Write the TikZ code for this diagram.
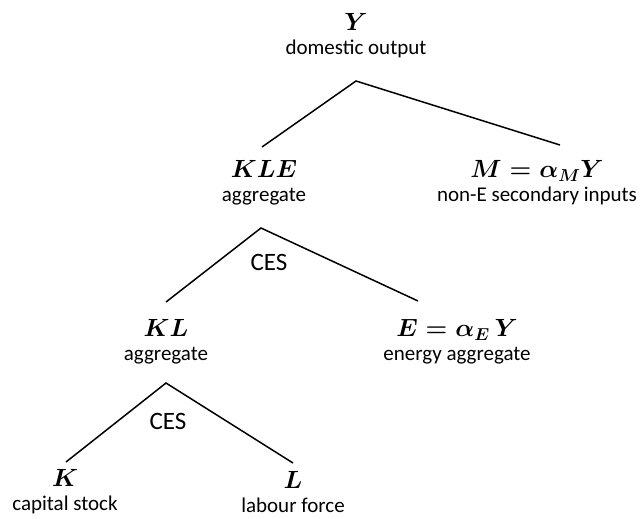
\documentclass[tikz,border=0pt]{standalone}
\usepackage{fontspec}
\usepackage{amsmath}
\usepackage{tikz}
\setmainfont{Carlito}

\newcommand{\bm}[1]{{\fontsize{23}{23}\selectfont$\boldsymbol{#1}$}}

\tikzset{
  lab/.style = {align=center, inner sep=0pt, font=\fontsize{21}{24}\selectfont},
  branch/.style = {line width=1.5pt},
  ces/.style = {inner sep=0pt, font=\fontsize{25}{25}\selectfont}
}

\begin{document}
\begin{tikzpicture}[x=1pt, y=-1pt]
              \useasboundingbox (0,0) rectangle (640,519);
              % labels
              \node[lab] (Y) at (356, 36) {\bm{Y}\\domestic output};
              \node[lab] (KLE) at (264, 183) {\bm{KLE}\\aggregate};
              \node[lab] (M) at (537, 183) {\bm{M=\alpha_M Y}\\non-E secondary inputs};
              \node[lab] (KL) at (166, 342) {\bm{KL}\\aggregate};
              \node[lab] (E) at (457, 342) {\bm{E=\alpha_E\,Y}\\energy aggregate};
              \node[lab] (K) at (65, 492) {\bm{K}\\capital stock};
              \node[lab] (L) at (293, 492) {\bm{L}\\labour force};
              \node[ces] (ces1) at (269, 262) {CES};
              \node[ces] (ces2) at (168, 421) {CES};
              % forks
              \coordinate (fY) at (356, 81);
              \coordinate (tKLE) at (262, 147);
              \coordinate (tM) at (560, 145);
              \coordinate (fKLE) at (261, 228);
              \coordinate (tKL) at (166, 302);
              \coordinate (tE) at (418, 301);
              \coordinate (fKL) at (166, 383);
              \coordinate (tK) at (66, 462);
              \coordinate (tL) at (293, 463);
              \draw[branch] (tKLE) -- (fY) -- (tM);
              \draw[branch] (tKL) -- (fKLE) -- (tE);
              \draw[branch] (tK) -- (fKL) -- (tL);
\end{tikzpicture}
\end{document}
